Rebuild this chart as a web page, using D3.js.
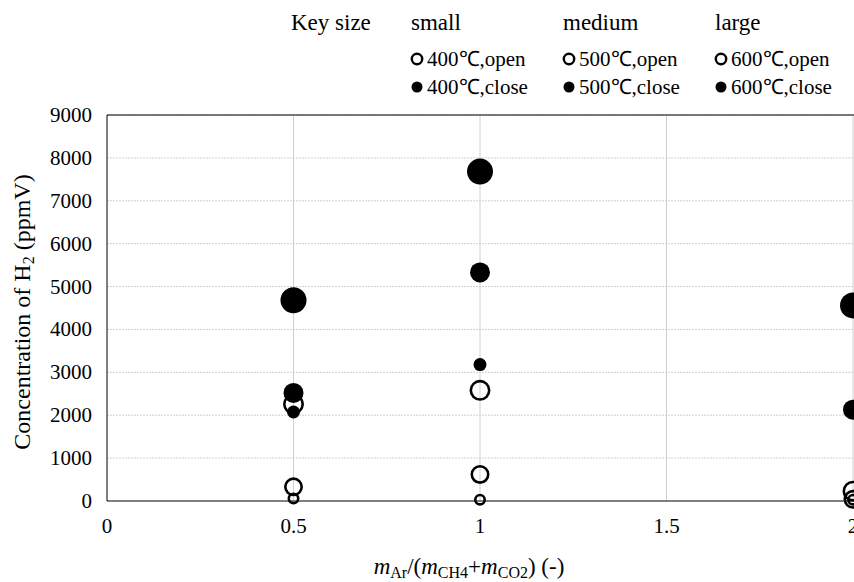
<!DOCTYPE html>
<html>
<head>
<meta charset="utf-8">
<script src="https://cdn.jsdelivr.net/npm/d3@7"></script>
<style>
body{margin:0;background:#fff}
text{font-family:"Liberation Serif","Times New Roman",serif;fill:#000}
</style>
</head>
<body>
<svg id="chart"></svg>
<script>
// data
var ratios=[0.5,1,2]
var open400=[60,30,30]
var open500=[330,620,40]
var open600=[2260,2580,230]
var close400=[2075,3180,null]
var close500=[2520,5330,2130]
var close600=[4680,7680,4560]
var yTicks=[0,1000,2000,3000,4000,5000,6000,7000,8000,9000]
var xTicks=[0,0.5,1,1.5,2]
var xTickLabels=["0","0.5","1","1.5","2"]

var screen={width:854,height:582}
var svg=d3.select("#chart").attr("width",screen.width).attr("height",screen.height)

var xScale=d3.scaleLinear().domain([0,2]).range([107,853])
var yScale=d3.scaleLinear().domain([0,9000]).range([501,115])

// grid
svg.append("g").selectAll("line").data(yTicks.slice(1)).enter().append("line")
    .attr("x1",xScale(0)).attr("x2",xScale(2))
    .attr("y1",function(d){return yScale(d)}).attr("y2",function(d){return yScale(d)})
    .attr("stroke","#d0d0d0").attr("stroke-width",1).attr("stroke-dasharray","2,1")
svg.append("g").selectAll("line").data(xTicks.slice(1)).enter().append("line")
    .attr("x1",function(d){return xScale(d)}).attr("x2",function(d){return xScale(d)})
    .attr("y1",yScale(0)).attr("y2",yScale(9000))
    .attr("stroke","#d0d0d0").attr("stroke-width",1)

// frame
svg.append("line").attr("x1",xScale(0)).attr("x2",xScale(0)).attr("y1",yScale(0)).attr("y2",yScale(9000)).attr("stroke","#000")
svg.append("line").attr("x1",xScale(0)).attr("x2",screen.width).attr("y1",yScale(0)).attr("y2",yScale(0)).attr("stroke","#000")
svg.append("line").attr("x1",xScale(0)).attr("x2",screen.width).attr("y1",yScale(9000)).attr("y2",yScale(9000)).attr("stroke","#000")

// tick labels
svg.append("g").selectAll("text").data(yTicks).enter().append("text")
    .attr("x",92).attr("y",function(d){return yScale(d)+7})
    .attr("text-anchor","end").attr("font-size",21)
    .text(function(d){return d})
svg.append("g").selectAll("text").data(xTicks).enter().append("text")
    .attr("x",function(d){return xScale(d)}).attr("y",533)
    .attr("text-anchor","middle").attr("font-size",21)
    .text(function(d,i){return xTickLabels[i]})

// axis titles
var yl=svg.append("text").attr("transform","translate(30,312) rotate(-90)")
    .attr("text-anchor","middle").attr("font-size",24)
yl.append("tspan").text("Concentration of H")
yl.append("tspan").attr("font-size",16).attr("dy",4).text("2")
yl.append("tspan").attr("dy",-4).text(" (ppmV)")

var xl=svg.append("text").attr("x",469).attr("y",574).attr("text-anchor","middle").attr("font-size",23)
xl.append("tspan").attr("font-style","italic").text("m")
xl.append("tspan").attr("font-size",16).attr("dy",4).text("Ar")
xl.append("tspan").attr("dy",-4).text("/(")
xl.append("tspan").attr("font-style","italic").text("m")
xl.append("tspan").attr("font-size",16).attr("dy",4).text("CH4")
xl.append("tspan").attr("dy",-4).text("+")
xl.append("tspan").attr("font-style","italic").text("m")
xl.append("tspan").attr("font-size",16).attr("dy",4).text("CO2")
xl.append("tspan").attr("dy",-4).text(") (-)")

// points
var drawSeries=function(vals,r,filled){
    var pts=ratios.map(function(x,i){return {x:x,y:vals[i]}}).filter(function(d){return d.y!=null})
    svg.append("g").selectAll("circle").data(pts).enter().append("circle")
        .attr("cx",function(d){return xScale(d.x)})
        .attr("cy",function(d){return yScale(d.y)})
        .attr("r",filled?r:r-1.3)
        .attr("fill",filled?"#000":"none")
        .attr("stroke","#000")
        .attr("stroke-width",filled?0:2.6)
}
drawSeries(close600,13,true)
drawSeries(close500,10,true)
drawSeries(open600,10.5,false)
drawSeries(close400,6.5,true)
drawSeries(open500,9.5,false)
drawSeries(open400,6,false)

// legend
svg.append("text").attr("x",291).attr("y",30).attr("font-size",23).text("Key size")
var sizeNames=["small","medium","large"]
var legTemps=["400","500","600"]
var legX=[411,563,715]
svg.append("g").selectAll("text").data(sizeNames).enter().append("text")
    .attr("x",function(d,i){return legX[i]}).attr("y",30).attr("font-size",23)
    .text(function(d){return d})
legTemps.forEach(function(t,i){
    var g=svg.append("g")
    g.append("circle").attr("cx",legX[i]+6).attr("cy",59).attr("r",5.2)
        .attr("fill","none").attr("stroke","#000").attr("stroke-width",2.4)
    g.append("circle").attr("cx",legX[i]+6).attr("cy",87).attr("r",5.5).attr("fill","#000")
    g.append("text").attr("x",legX[i]+16).attr("y",66).attr("font-size",21).text(t+"\u2103,open")
    g.append("text").attr("x",legX[i]+16).attr("y",94).attr("font-size",21).text(t+"\u2103,close")
})
</script>
</body>
</html>
